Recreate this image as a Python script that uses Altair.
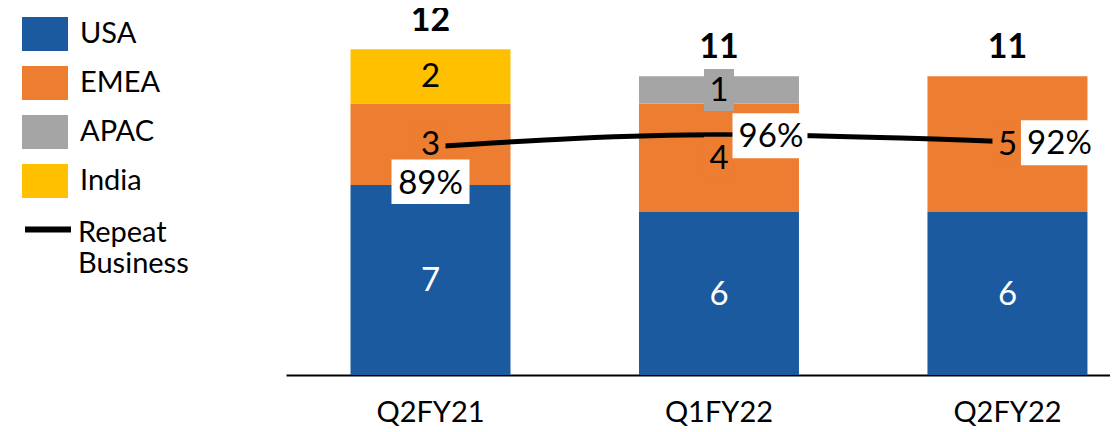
import altair as alt
import pandas as pd

quarters = ["Q2FY21", "Q1FY22", "Q2FY22"]
regions = ["USA", "EMEA", "APAC", "India"]
usa = [7, 6, 6]
emea = [3, 4, 5]
apac = [0, 1, 0]
india = [2, 0, 0]
repeat_pct = [89, 96, 92]
pct_placement = ["below", "right", "right"]
line_name = "Repeat Business"

region_colors = ["#1C5AA0", "#ED7D31", "#A5A5A5", "#FFC000"]
line_color = "#000000"

rows = []
for i, q in enumerate(quarters):
    for j, (r, vals) in enumerate(zip(regions, [usa, emea, apac, india])):
        if vals[i] > 0:
            rows.append({"quarter": q, "region": r, "value": vals[i], "order": j})
seg = pd.DataFrame(rows)
tot = pd.DataFrame({"quarter": quarters,
                    "total": [usa[i] + emea[i] + apac[i] + india[i] for i in range(3)]})
rep = pd.DataFrame({"quarter": quarters, "pct": repeat_pct,
                    "label": [f"{p}%" for p in repeat_pct], "placement": pct_placement,
                    "series": [line_name] * 3})

FONT = "Lato"
color_scale = alt.Scale(domain=regions, range=region_colors)

X = alt.X("quarter:N", sort=quarters,
          scale=alt.Scale(paddingInner=0.4454, paddingOuter=0.1509, align=0.741),
          axis=alt.Axis(title=None, labelFont=FONT, labelFontSize=29, labelColor="black",
                        labelAngle=0, ticks=False, domainColor="black", domainWidth=2,
                        labelPadding=23, grid=False))
Y_DOMAIN = [0, 13.26]
P_DOMAIN = [-45.3, 166.5]

stacked = (alt.Chart(seg)
           .transform_stack(stack="value", groupby=["quarter"],
                            sort=[alt.SortField("order")], as_=["y0", "y1"])
           .transform_calculate(mid="(datum.y0 + datum.y1) / 2"))

region_legend = alt.Legend(
    title=None, orient="none", legendX=-264, legendY=-4,
    symbolType="M-1,-0.74H1V0.74H-1Z", symbolSize=2116, symbolStrokeWidth=0,
    labelFont=FONT, labelFontSize=29, labelColor="black", labelOffset=12,
    labelLimit=300, rowPadding=8, padding=0,
)

line_legend = alt.Legend(
    title=None, orient="none", legendX=-264, legendY=178,
    symbolType="M-1,0.46H1", symbolSize=2116, symbolStrokeWidth=6,
    labelFont=FONT, labelFontSize=29, labelColor="black", labelOffset=4,
    labelLimit=300, padding=0, labelBaseline="top",
    labelExpr="['Repeat', 'Business']",
)

bars = stacked.mark_bar().encode(
    x=X,
    y=alt.Y("y0:Q", scale=alt.Scale(domain=Y_DOMAIN, nice=False), axis=None),
    y2="y1:Q",
    color=alt.Color("region:N", scale=color_scale, legend=region_legend),
)

seg_box = stacked.mark_point(shape="M-1,-1.4H1V1.4H-1Z", size=900, filled=True,
                             opacity=1, strokeWidth=0).encode(
    x=X,
    y=alt.Y("mid:Q", scale=alt.Scale(domain=Y_DOMAIN, nice=False), axis=None),
    color=alt.Color("region:N", scale=color_scale, legend=None),
)

seg_text = stacked.mark_text(font=FONT, fontSize=33, baseline="middle", dy=1).encode(
    x=X,
    y=alt.Y("mid:Q", scale=alt.Scale(domain=Y_DOMAIN, nice=False), axis=None),
    text="value:Q",
    color=alt.when(alt.datum.region == "USA").then(alt.value("white")).otherwise(alt.value("black")),
)

totals = alt.Chart(tot).mark_text(font=FONT, fontSize=34, fontWeight="bold",
                                  baseline="bottom", dy=-11, color="black").encode(
    x=X,
    y=alt.Y("total:Q", scale=alt.Scale(domain=Y_DOMAIN, nice=False), axis=None),
    text="total:Q",
)

PY = alt.Y("pct:Q", scale=alt.Scale(domain=P_DOMAIN, nice=False, zero=False), axis=None)

line = alt.Chart(rep).mark_line(strokeWidth=5, interpolate="monotone").encode(
    x=X, y=PY,
    color=alt.Color("series:N", scale=alt.Scale(domain=[line_name], range=[line_color]),
                    legend=line_legend),
)

box_below = alt.Chart(rep).transform_filter(alt.datum.placement == "below").mark_point(
    shape="M-1,-0.57H1V0.57H-1Z", size=78 * 78, filled=True, color="white",
    opacity=1, strokeWidth=0, yOffset=35).encode(x=X, y=PY)
box_right = alt.Chart(rep).transform_filter(alt.datum.placement == "right").mark_point(
    shape="M-1,-0.6H1V0.6H-1Z", size=75 * 75, filled=True, color="white",
    opacity=1, strokeWidth=0, xOffset=51, yOffset=1).encode(x=X, y=PY)
txt_below = alt.Chart(rep).transform_filter(alt.datum.placement == "below").mark_text(
    font=FONT, fontSize=33, baseline="middle", color="black", dy=37).encode(
    x=X, y=PY, text="label:N")
txt_right = alt.Chart(rep).transform_filter(alt.datum.placement == "right").mark_text(
    font=FONT, fontSize=33, baseline="middle", color="black", dx=52, dy=2).encode(
    x=X, y=PY, text="label:N")

chart = (alt.layer(bars, line, seg_box, seg_text, box_below, box_right,
                   txt_below, txt_right, totals)
         .resolve_scale(y="independent", color="independent")
         .properties(width=824, height=360,
                     autosize=alt.AutoSizeParams(type="none"),
                     padding={"left": 278, "top": 7, "right": 0, "bottom": 53})
         .configure_view(stroke=None))

chart.save("out.html", embed_options={"renderer": "svg", "actions": False})
